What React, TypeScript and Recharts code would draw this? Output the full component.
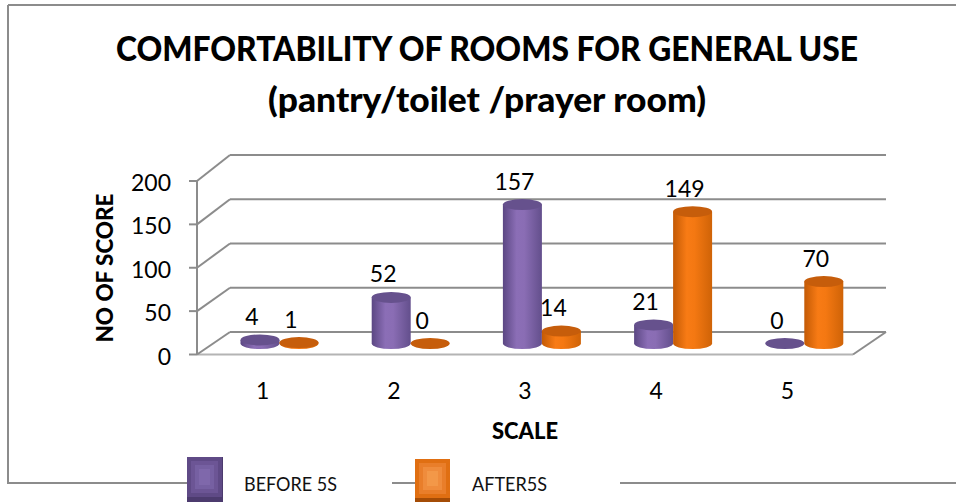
import React from 'react';
import {
  BarChart,
  Bar,
  XAxis,
  YAxis,
  CartesianGrid,
  ReferenceLine,
  ReferenceArea,
  Legend,
} from 'recharts';

// ---------- data ----------
const categories = ['1', '2', '3', '4', '5'];
const before5S = [4, 52, 157, 21, 0];
const after5S = [1, 0, 14, 149, 70];
const yTicks = [0, 50, 100, 150, 200];
const seriesNames = ['BEFORE 5S', 'AFTER5S'];
const titleLines = ['COMFORTABILITY OF ROOMS FOR GENERAL USE', '(pantry/toilet /prayer room)'];
const yTitle = 'NO OF SCORE';
const xTitle = 'SCALE';

const data = categories.map((c, i) => ({ scale: c, before: before5S[i], after: after5S[i] }));

// ---------- style ----------
const FONT = 'Lato, "Open Sans", sans-serif';
const GRID = '#8c8c8c';
const DEPTH_X = 33; // front plane lies 33px left of the back wall
const MID_X = -16.5; // bars sit half way in depth
const MID_Y = 11.5;
const NUM_SIZE = 23;
const frontDy = (v: number) => 22.5 + (3.5 * v) / 200;

const COLORS = {
  before: { top: '#66518d', grad: 'gradBefore' },
  after: { top: '#c65d0b', grad: 'gradAfter' },
};

const makeCylinder = (kind: 'before' | 'after') => (props: any) => {
  const { x, y, width, height } = props;
  if (x == null || y == null || width == null) return <g />;
  const h = Math.max(0, height || 0);
  const rx = width / 2;
  const ry = 5.5;
  const cx = x + rx + MID_X;
  const top = y + MID_Y;
  const bot = y + h + MID_Y;
  const left = cx - rx;
  const right = cx + rx;
  return (
    <g>
      {h > 0 && (
        <path
          d={`M${left},${top} L${left},${bot} A${rx},${ry} 0 0 0 ${right},${bot} L${right},${top} Z`}
          fill={`url(#${COLORS[kind].grad})`}
        />
      )}
      <ellipse cx={cx} cy={top} rx={rx} ry={ry} fill={COLORS[kind].top} />
    </g>
  );
};

const renderLabel = (props: any) => {
  const vb = props.viewBox || {};
  const x = props.x ?? vb.x;
  const y = props.y ?? vb.y;
  const width = props.width ?? vb.width;
  if (x == null || y == null) return null;
  const cx = x + width / 2 + MID_X - 8;
  return (
    <text x={cx} y={y + MID_Y - 15} textAnchor="middle" fontFamily={FONT} fontSize={NUM_SIZE} fill="#000">
      {props.value}
    </text>
  );
};

const YTick = (props: any) => {
  const { x, y, payload } = props;
  const fy = y + frontDy(payload.value);
  return (
    <text x={x - DEPTH_X - 26} y={fy + 10} textAnchor="end" fontFamily={FONT} fontSize={NUM_SIZE} fill="#000">
      {payload.value}
    </text>
  );
};

const XTick = (props: any) => {
  const { x, y, payload } = props;
  return (
    <text x={x - DEPTH_X} y={y + 67} textAnchor="middle" fontFamily={FONT} fontSize={NUM_SIZE} fill="#000">
      {payload.value}
    </text>
  );
};

const sideGrid = (v: number) => (props: any) => {
  const { x1, y1 } = props;
  const fx = x1 - DEPTH_X;
  const fy = y1 + frontDy(v);
  return (
    <g>
      <line x1={fx} y1={fy} x2={x1} y2={y1} stroke={GRID} strokeWidth={2} />
      <line x1={fx - 8} y1={fy} x2={fx} y2={fy} stroke={GRID} strokeWidth={2} />
    </g>
  );
};

const FloorShape = (props: any) => {
  const { x, y, width, height } = props;
  if (x == null) return <g />;
  const bottom = y + height;
  const fyB = bottom + frontDy(yTicks[0]);
  const fyT = y + frontDy(yTicks[yTicks.length - 1]);
  const fxL = x - DEPTH_X;
  const fxR = x + width - DEPTH_X;
  return (
    <g>
      <line x1={fxL} y1={fyT} x2={fxL} y2={fyB} stroke={GRID} strokeWidth={2} />
      <line x1={fxL} y1={fyB} x2={fxR} y2={fyB} stroke="#b4b4b4" strokeWidth={2} />
      <line x1={fxR} y1={fyB} x2={x + width} y2={bottom} stroke={GRID} strokeWidth={2} />
    </g>
  );
};

const LegendContent = () => {
  return (
    <svg width={956} height={62} style={{ display: 'block' }}>
      <line x1={8} x2={187} y1={43} y2={43} stroke={GRID} strokeWidth={2} />
      <line x1={392} x2={415} y1={43} y2={43} stroke={GRID} strokeWidth={2} />
      <line x1={620} x2={956} y1={43} y2={43} stroke={GRID} strokeWidth={2} />
      {/* purple marker */}
      <rect x={187} y={17} width={36} height={45} fill="#4c3b6e" />
      <rect x={187} y={17} width={35} height={40} fill="#5f4a86" />
      <rect x={191} y={21} width={27} height={32} fill="#6c5595" />
      <rect x={195} y={25} width={19} height={24} fill="#7660a2" />
      <rect x={199} y={29} width={11} height={16} fill="#7f68ab" />
      {/* orange marker */}
      <rect x={415} y={19} width={35} height={43} fill="#a44c06" />
      <rect x={415} y={19} width={35} height={39} fill="#e06f12" />
      <rect x={419} y={23} width={27} height={31} fill="#e97e2a" />
      <rect x={423} y={27} width={19} height={23} fill="#ef8c3c" />
      <rect x={427} y={31} width={11} height={15} fill="#f39848" />
      <text x={244} y={51} fontFamily={FONT} fontSize={19} fill="#111" textLength={93} lengthAdjust="spacingAndGlyphs">
        {seriesNames[0]}
      </text>
      <text x={472} y={51} fontFamily={FONT} fontSize={19} fill="#111" textLength={75} lengthAdjust="spacingAndGlyphs">
        {seriesNames[1]}
      </text>
    </svg>
  );
};

export default function App() {
  return (
    <div style={{ position: 'absolute', left: 0, top: 0, width: 956, height: 502, overflow: 'hidden', background: '#fff' }}>
      <BarChart
        width={956}
        height={502}
        data={data}
        margin={{ top: 155, right: 70, bottom: 140, left: 190 }}
        barGap={0}
        barCategoryGap="20%"
      >
        <defs>
          <linearGradient id="gradBefore" x1="0" y1="0" x2="1" y2="0">
            <stop offset="0" stopColor="#5b4783" />
            <stop offset="0.35" stopColor="#8b6eb6" />
            <stop offset="0.55" stopColor="#8a6db4" />
            <stop offset="1" stopColor="#634f8c" />
          </linearGradient>
          <linearGradient id="gradAfter" x1="0" y1="0" x2="1" y2="0">
            <stop offset="0" stopColor="#c35a05" />
            <stop offset="0.35" stopColor="#f87b15" />
            <stop offset="0.55" stopColor="#f47812" />
            <stop offset="1" stopColor="#cf6307" />
          </linearGradient>
        </defs>
        {/* frame */}
        <line x1={8} y1={5} x2={956} y2={5} stroke={GRID} strokeWidth={2} />
        <line x1={8} y1={5} x2={8} y2={484} stroke={GRID} strokeWidth={2} />
        {/* titles */}
        <text x={487} y={61} textAnchor="middle" fontFamily={FONT} fontWeight={900} fontSize={34} fill="#000" textLength={742} lengthAdjust="spacingAndGlyphs">
          {titleLines[0]}
        </text>
        <text x={487} y={112} textAnchor="middle" fontFamily={FONT} fontWeight={900} fontSize={35} fill="#000" textLength={438} lengthAdjust="spacingAndGlyphs">
          {titleLines[1]}
        </text>
        <text x={113} y={268} transform="rotate(-90 113 268)" textAnchor="middle" fontFamily={FONT} fontWeight={900} fontSize={22} fill="#000" textLength={149} lengthAdjust="spacingAndGlyphs">
          {yTitle}
        </text>
        <text x={525} y={439} textAnchor="middle" fontFamily={FONT} fontWeight={900} fontSize={22} fill="#000" textLength={66} lengthAdjust="spacingAndGlyphs">
          {xTitle}
        </text>

        <CartesianGrid vertical={false} stroke={GRID} strokeWidth={2} />
        <XAxis
          dataKey="scale"
          height={30}
          axisLine={false}
          tickLine={false}
          tickSize={0}
          tickMargin={0}
          tick={<XTick />}
          interval={0}
        />
        <YAxis
          domain={[0, 200]}
          ticks={yTicks}
          width={40}
          axisLine={false}
          tickLine={false}
          tickSize={0}
          tickMargin={0}
          tick={<YTick />}
          interval={0}
        />
        <ReferenceArea y1={0} y2={200} shape={FloorShape} />
        {yTicks.map((v) => (
          <ReferenceLine key={v} y={v} shape={sideGrid(v)} />
        ))}
        <Bar dataKey="before" name={seriesNames[0]} fill="#7b62a6" barSize={39} isAnimationActive={false} shape={makeCylinder('before')} label={renderLabel} />
        <Bar dataKey="after" name={seriesNames[1]} fill="#f07214" barSize={39} isAnimationActive={false} shape={makeCylinder('after')} label={renderLabel} />
        <Legend
          layout="vertical"
          align="center"
          verticalAlign="middle"
          content={<LegendContent />}
          wrapperStyle={{ position: 'absolute', left: 0, top: 440, width: 956, height: 62, margin: 0, padding: 0 }}
        />
      </BarChart>
    </div>
  );
}
